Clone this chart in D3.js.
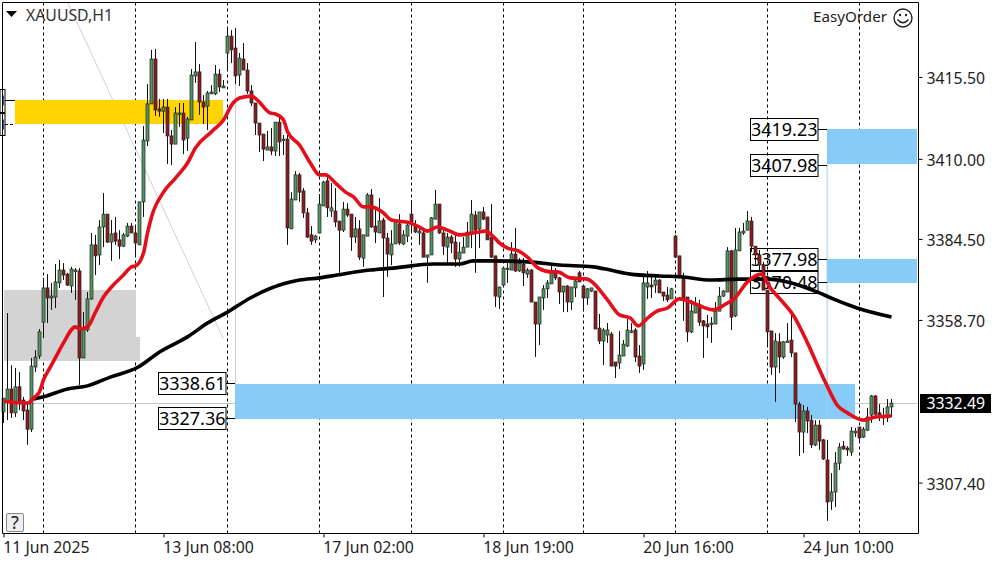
<!DOCTYPE html>
<html><head><meta charset="utf-8">
<script src="https://cdn.jsdelivr.net/npm/d3@7/dist/d3.min.js"></script>
<style>html,body{margin:0;padding:0;background:#fff;overflow:hidden}svg{display:block}text{font-family:"Noto Sans",sans-serif}</style>
</head><body><svg id="c" width="1000" height="562"></svg>
<script>
const opens=[3329.4,3332.6,3336.7,3329.1,3337.4,3333.2,3330.0,3323.9,3343.7,3347.2,3358.0,3368.9,3365.7,3366.0,3370.5,3374.6,3373.3,3369.5,3374.3,3374.3,3346.6,3355.5,3365.4,3382.6,3379.4,3388.3,3392.4,3383.5,3386.4,3384.2,3382.2,3385.4,3388.6,3386.4,3382.6,3396.3,3415.7,3427.5,3441.8,3425.9,3425.2,3426.5,3417.3,3414.7,3424.3,3424.6,3416.6,3422.4,3436.4,3437.7,3428.1,3426.8,3430.7,3430.7,3437.0,3432.6,3443.7,3449.1,3445.3,3436.7,3441.8,3438.3,3431.6,3427.8,3421.4,3417.9,3412.8,3413.8,3412.5,3421.7,3416.0,3416.3,3387.7,3396.9,3404.9,3399.8,3392.8,3385.8,3384.2,3386.4,3395.0,3403.0,3393.4,3393.4,3390.2,3387.3,3394.0,3392.4,3385.1,3387.7,3378.4,3385.4,3398.5,3388.6,3386.4,3390.5,3384.8,3379.4,3382.9,3389.3,3382.9,3385.4,3392.4,3388.6,3386.4,3386.4,3378.7,3379.4,3390.8,3395.6,3386.4,3381.9,3385.1,3383.5,3378.1,3380.0,3381.9,3386.4,3392.1,3387.7,3393.1,3391.5,3385.1,3379.1,3366.0,3369.8,3374.9,3374.6,3379.7,3374.3,3376.5,3373.3,3374.6,3364.4,3357.4,3365.7,3368.6,3370.2,3373.7,3372.1,3367.6,3369.5,3364.4,3368.9,3373.7,3369.5,3365.7,3367.9,3367.9,3356.1,3352.0,3353.9,3354.2,3345.3,3345.0,3347.2,3350.4,3354.9,3355.5,3347.2,3344.7,3369.2,3369.8,3369.8,3371.4,3367.6,3366.6,3365.4,3385.4,3379.1,3372.4,3366.0,3354.9,3360.9,3363.5,3358.4,3357.4,3357.4,3357.4,3361.5,3366.3,3367.6,3380.7,3360.0,3380.7,3386.4,3387.3,3390.2,3382.2,3379.4,3376.2,3368.2,3355.2,3343.7,3351.7,3346.9,3351.7,3352.3,3348.2,3331.9,3323.0,3329.7,3326.8,3318.9,3325.2,3320.5,3314.1,3301.0,3303.9,3313.1,3318.5,3317.9,3316.6,3322.7,3324.6,3321.4,3323.6,3328.4,3334.5,3329.1,3328.1,3327.5,3331.0];
const closes=[3333.8,3336.7,3329.1,3337.4,3332.2,3329.7,3323.9,3344.0,3346.9,3354.9,3368.9,3365.7,3366.3,3370.8,3374.6,3373.0,3369.8,3374.9,3374.6,3346.6,3356.1,3365.4,3382.6,3379.1,3388.3,3392.4,3383.5,3386.1,3383.8,3382.2,3385.8,3388.6,3386.4,3383.2,3396.3,3416.0,3427.5,3441.8,3425.6,3425.2,3426.5,3417.3,3414.7,3424.6,3424.6,3416.0,3422.7,3436.7,3437.7,3428.1,3426.5,3431.0,3431.3,3437.0,3432.9,3433.2,3449.1,3444.7,3436.4,3442.1,3438.3,3431.6,3427.8,3421.4,3417.6,3413.1,3413.8,3412.5,3421.7,3415.4,3416.3,3388.0,3397.2,3404.9,3399.4,3392.8,3385.1,3383.8,3385.4,3395.6,3402.6,3394.4,3394.4,3389.9,3387.3,3394.0,3392.1,3385.1,3387.7,3378.7,3385.8,3398.5,3388.3,3386.7,3390.2,3384.8,3379.7,3382.9,3389.9,3383.2,3385.8,3388.9,3389.9,3386.7,3387.0,3378.7,3379.4,3391.2,3395.6,3386.4,3382.2,3385.1,3383.2,3378.1,3380.3,3381.9,3386.7,3392.4,3387.3,3393.1,3390.8,3384.2,3378.7,3366.3,3369.2,3375.2,3375.2,3379.7,3374.3,3376.8,3373.7,3374.6,3364.4,3357.4,3366.0,3368.6,3370.5,3373.7,3372.1,3367.6,3369.5,3364.4,3369.2,3371.1,3370.8,3365.7,3368.6,3368.9,3355.8,3352.0,3355.5,3355.5,3344.0,3344.0,3347.5,3351.0,3355.5,3355.2,3346.9,3344.0,3370.5,3370.5,3369.2,3371.4,3367.3,3366.3,3365.1,3368.6,3378.7,3372.1,3365.7,3354.9,3361.5,3363.5,3358.0,3356.8,3356.5,3357.7,3361.5,3366.3,3367.9,3380.7,3359.6,3381.0,3386.7,3387.0,3390.2,3382.2,3379.4,3376.2,3368.2,3354.9,3343.7,3352.0,3346.9,3351.7,3352.0,3348.2,3331.9,3323.0,3329.7,3326.5,3318.9,3325.2,3320.1,3314.4,3300.7,3303.9,3313.1,3318.2,3317.6,3317.3,3323.3,3323.3,3321.1,3323.9,3327.8,3334.5,3328.7,3327.8,3327.5,3331.0,3332.2];
const highs=[3333.8,3360.9,3344.3,3343.4,3342.1,3334.2,3332.6,3346.6,3349.1,3355.8,3372.1,3373.3,3370.5,3376.5,3377.8,3376.8,3373.7,3375.6,3375.2,3375.2,3361.2,3367.6,3386.4,3385.8,3390.5,3399.1,3392.4,3390.5,3391.5,3387.3,3386.4,3389.6,3389.6,3388.9,3396.3,3420.5,3433.8,3444.7,3445.0,3429.1,3429.1,3429.1,3419.2,3426.5,3427.8,3427.8,3423.4,3438.6,3447.2,3440.2,3430.3,3431.6,3433.5,3439.9,3438.6,3435.1,3452.0,3451.0,3451.7,3443.7,3446.9,3440.5,3433.5,3427.8,3421.4,3417.9,3418.9,3419.8,3421.7,3423.0,3417.6,3417.6,3399.4,3406.1,3405.5,3400.7,3394.4,3388.6,3385.8,3398.8,3403.0,3404.9,3402.3,3400.7,3390.2,3396.3,3395.9,3392.4,3391.5,3390.5,3385.8,3399.1,3400.4,3393.7,3397.5,3391.2,3386.4,3387.3,3390.5,3392.4,3387.3,3389.9,3396.9,3390.5,3388.0,3388.0,3379.4,3391.5,3400.1,3395.6,3387.3,3386.4,3385.8,3385.8,3383.5,3385.1,3389.9,3396.9,3393.4,3393.1,3394.7,3391.5,3395.6,3379.1,3369.2,3375.6,3377.2,3383.5,3388.0,3378.4,3378.4,3375.2,3374.9,3364.4,3366.0,3369.8,3371.4,3376.5,3375.2,3372.4,3369.5,3369.8,3369.2,3371.7,3374.3,3369.5,3368.9,3368.9,3367.9,3360.6,3356.1,3357.7,3354.9,3345.3,3355.2,3352.3,3359.0,3357.7,3356.1,3350.7,3373.0,3374.3,3373.0,3372.4,3371.7,3367.6,3369.2,3368.9,3385.8,3379.1,3373.7,3366.0,3365.1,3366.0,3365.1,3358.7,3360.3,3359.6,3364.4,3369.2,3368.2,3381.9,3381.0,3388.0,3388.0,3389.6,3393.4,3391.5,3382.2,3381.0,3377.2,3368.2,3355.2,3354.5,3354.5,3352.0,3357.7,3360.3,3348.2,3332.6,3331.6,3331.0,3328.4,3326.8,3326.8,3320.8,3320.5,3309.9,3316.6,3319.5,3320.1,3318.5,3324.6,3324.3,3324.6,3324.6,3330.7,3334.8,3334.8,3331.9,3330.7,3333.5,3333.5];
const lows=[3325.9,3326.8,3327.5,3327.8,3330.0,3326.8,3318.9,3323.0,3342.1,3346.3,3352.9,3357.7,3361.9,3362.5,3368.9,3371.4,3369.5,3367.3,3365.1,3338.0,3346.6,3354.9,3365.1,3373.0,3376.2,3381.9,3383.2,3377.5,3382.6,3378.1,3381.9,3385.1,3386.4,3378.7,3382.6,3391.5,3414.1,3427.5,3423.7,3423.4,3418.2,3408.4,3408.0,3414.7,3420.2,3411.5,3412.5,3422.4,3434.2,3424.0,3421.1,3419.2,3430.7,3430.3,3431.3,3432.6,3438.0,3440.5,3433.8,3433.2,3438.3,3430.7,3426.8,3417.6,3412.2,3409.3,3412.8,3411.2,3410.9,3410.9,3411.2,3382.6,3387.7,3396.9,3396.3,3391.2,3384.8,3382.6,3383.2,3386.4,3395.0,3391.5,3391.5,3388.3,3373.7,3386.7,3391.5,3380.7,3383.2,3377.8,3375.6,3385.4,3388.0,3383.2,3386.4,3366.0,3372.4,3376.2,3382.9,3382.6,3382.6,3383.5,3386.4,3386.4,3382.6,3378.7,3370.5,3379.4,3390.8,3386.1,3379.4,3376.8,3380.0,3375.6,3375.6,3380.0,3381.9,3381.6,3373.7,3381.6,3390.5,3384.2,3378.4,3362.8,3362.2,3369.2,3370.5,3374.6,3374.0,3374.0,3369.5,3372.1,3364.4,3346.9,3350.7,3361.9,3365.7,3370.2,3371.4,3363.8,3361.2,3361.2,3361.9,3366.0,3370.8,3361.5,3363.5,3367.6,3355.8,3351.0,3344.3,3351.4,3344.0,3340.2,3343.1,3347.2,3350.1,3354.5,3345.3,3341.8,3342.8,3365.4,3365.7,3367.3,3367.3,3364.7,3364.4,3365.4,3378.4,3372.1,3358.4,3351.7,3354.5,3360.9,3356.8,3346.6,3352.9,3351.4,3357.4,3361.5,3366.0,3367.6,3355.5,3359.6,3380.7,3385.8,3387.3,3380.3,3376.2,3374.6,3368.2,3350.1,3341.2,3332.6,3341.8,3346.3,3351.4,3346.9,3326.2,3315.4,3316.3,3322.7,3317.9,3318.5,3317.3,3314.1,3294.7,3298.2,3299.1,3310.9,3317.3,3315.4,3315.4,3321.4,3319.5,3321.1,3323.3,3325.9,3327.8,3326.5,3325.2,3326.2,3327.8];

const fastBars=[0,6,7.5,9,10,11.7,14,15,18,19,21,23,25,27,30,32,33,35,36,37,40,43,46,48,52,55,57.4,59,62,63.4,66.7,68,70,71,74,76.7,79,80.5,83,85.5,87.5,90,91.7,94.7,97,101.7,104,106,108.4,111,114,117.4,120.4,122,124,126,128.7,131,133.7,137,138.4,141.7,146,147.4,151,154,156.7,158.7,161,163.4,166,169,172.4,177.4,181,182.4,186,189.4,191.7,195,197.4,201,204,206,208.4,211,215,218,222];
const fastMA=[3332.9,3332.2,3333.8,3335.8,3339.6,3343.7,3349.1,3351.4,3356.5,3355.8,3356.5,3361.2,3366.0,3369.2,3373.0,3375.6,3375.9,3380.0,3386.4,3391.5,3399.4,3403.9,3408.7,3413.5,3418.6,3422.4,3427.8,3429.4,3430.0,3428.8,3424.6,3424.3,3422.4,3418.6,3414.4,3408.7,3404.9,3404.9,3402.3,3399.4,3397.9,3394.7,3394.7,3393.1,3390.5,3389.6,3388.3,3387.0,3388.3,3387.3,3385.8,3386.4,3387.0,3385.8,3383.2,3381.6,3380.7,3378.7,3375.2,3374.0,3374.0,3372.1,3371.7,3370.5,3365.1,3360.3,3359.3,3356.8,3359.3,3361.5,3362.5,3365.4,3364.1,3361.9,3364.1,3365.1,3370.8,3373.3,3368.9,3364.1,3360.3,3351.4,3342.8,3337.4,3331.6,3329.1,3326.8,3327.8,3328.1];
const slowBars=[7.5,10,16,21,26.7,33.7,39,46,51,56,61.7,70,74,79,83.4,91.7,97.4,107.4,114,117.4,122.4,131,139,147.4,151.7,156.7,164,170,176.7,184,191,197,204,207.4,213.4,222];
const slowMA=[3333.5,3334.2,3336.7,3337.7,3340.5,3343.7,3348.5,3353.3,3357.7,3361.2,3365.7,3370.2,3371.4,3372.1,3373.0,3374.6,3375.2,3376.5,3376.5,3377.5,3377.5,3377.2,3376.2,3375.6,3374.6,3373.3,3372.7,3372.4,3371.4,3371.7,3371.7,3370.5,3367.3,3365.4,3362.5,3359.6];

const priceTickValues=[3436.1,3410.0,3384.5,3358.7,3306.9];
const priceTickLabels=["3415.50","3410.00","3384.50","3358.70","3307.40"];
const timeTickBars=[0,40,80,120,160,200];
const timeTickLabels=["11 Jun 2025","13 Jun 08:00","17 Jun 02:00","18 Jun 19:00","20 Jun 16:00","24 Jun 10:00"];
const separatorBars=[10,33,56,79,102,125,145,168,191,214];
const lastPrice=3332.49;
const blueZones=[[3338.3,3327.3,57.9,212.9],[3419.5,3408.4,205.9,228.4],[3378.0,3370.5,205.9,228.4]];
const levelLabels=[[3338.61,"l",57.9],[3327.36,"l",57.9],[3419.23,"r",205.9],[3407.98,"r",205.9],[3377.98,"r",205.9],[3370.48,"r",205.9]];
const yellowZone=[3428.75,3421.1,2.9,54.8];
const greyZones=[[3368.2,3345.6,0,33],[3353.3,3345.6,33,34]];

const svg=d3.select("#c");
const L=2.5,T=2.5,R=918.5,B=533.5;
const x=d3.scaleLinear().domain([0,222]).range([3.5,891.5]);
const y=d3.scaleLinear().domain([3460.6,3301.35]).range([0,500]);
const snap=v=>Math.round(v-0.5)+0.5;

// background zones
const zone=(z,fill)=>{const t=Math.round(y(z[0])),b=Math.round(y(z[1]));svg.append("rect").attr("x",Math.round(x(z[2]))).attr("width",Math.round(x(z[3]))-Math.round(x(z[2]))).attr("y",t).attr("height",b-t).attr("fill",fill);};
svg.append("line").attr("x1",L).attr("x2",R).attr("y1",403.5).attr("y2",403.5).attr("stroke","#c4c4c4");
svg.append("line").attr("x1",68).attr("y1",3).attr("x2",223).attr("y2",338).attr("stroke","#d0d0d0");
svg.append("line").attr("x1",235.5).attr("x2",235.5).attr("y1",60).attr("y2",384).attr("stroke","#d0d0d0");
svg.append("g").selectAll("line").data(separatorBars).join("line")
  .attr("x1",d=>x(d)).attr("x2",d=>x(d)).attr("y1",T).attr("y2",B)
  .attr("stroke","#000").attr("stroke-dasharray","3,3");
greyZones.forEach(z=>zone(z,"#d3d3d3"));
zone(yellowZone,"#ffd400");
blueZones.forEach(z=>zone(z,"#87cbf8"));
svg.append("line").attr("x1",x(205.9)).attr("x2",x(205.9)).attr("y1",y(3407.98)).attr("y2",y(3327.36)).attr("stroke","#9fd0ee");

// level tags
svg.append("g").selectAll("g").data(levelLabels).join("g").each(function(d){
  const g=d3.select(this),py=y(d[0]),side=d[1];
  const x1=side==="l"?158.5:750.5,w=67.5,cx=x1+w/2;
  g.append("line").attr("x1",x1+w).attr("x2",x(d[2])).attr("y1",snap(py)).attr("y2",snap(py)).attr("stroke","#000");
  g.append("rect").attr("x",x1).attr("y",snap(py)-11).attr("width",w).attr("height",22).attr("fill",side==="l"?"#fff":"none").attr("stroke","#000");
  g.append("text").attr("x",cx).attr("y",snap(py)+6.5).attr("text-anchor","middle").attr("font-size",18).attr("fill","#000").text(d[0].toFixed(2));
});

// clipped tags at left edge
[[89.5,23],[113.5,22]].forEach(r=>{
  svg.append("rect").attr("x",0).attr("y",r[0]).attr("width",5).attr("height",r[1]).attr("fill","#fff").attr("stroke","#000");
  svg.append("rect").attr("x",3).attr("y",r[0]+6).attr("width",1).attr("height",10).attr("fill","#33508a");
});
svg.append("line").attr("x1",5).attr("x2",15).attr("y1",100.5).attr("y2",100.5).attr("stroke","#000");
svg.append("line").attr("x1",5).attr("x2",15).attr("y1",124.5).attr("y2",124.5).attr("stroke","#000").attr("stroke-dasharray","3,2");

// candles
const idx=d3.range(opens.length);
svg.append("g").selectAll("line").data(idx).join("line")
  .attr("x1",i=>x(i)).attr("x2",i=>x(i)).attr("y1",i=>y(highs[i])).attr("y2",i=>y(lows[i])).attr("stroke","#111");
svg.append("g").selectAll("rect").data(idx).join("rect")
  .attr("x",i=>x(i)-1.5).attr("width",3)
  .attr("y",i=>y(Math.max(opens[i],closes[i])))
  .attr("height",i=>Math.max(1.5,Math.abs(y(opens[i])-y(closes[i]))))
  .attr("fill",i=>closes[i]>=opens[i]?"#54965f":"#8e1c1c")
  .attr("stroke","#222").attr("stroke-width",.7);

// moving averages
const line=d3.line().curve(d3.curveMonotoneX);
svg.append("path").attr("d",line(slowBars.map((b,i)=>[x(b),y(slowMA[i])]))).attr("fill","none").attr("stroke","#000").attr("stroke-width",3.6);
svg.append("path").attr("d",line(fastBars.map((b,i)=>[x(b),y(fastMA[i])]))).attr("fill","none").attr("stroke","#e3101c").attr("stroke-width",3.6);

// frame
svg.append("path").attr("d",`M${L},${T}H${R}V${B}H${L}Z`).attr("fill","none").attr("stroke","#000");

// axes
const yAxis=d3.axisRight(y).tickValues(priceTickValues).tickFormat((d,i)=>priceTickLabels[i]).tickSize(4).tickPadding(4);
const ya=svg.append("g").attr("transform",`translate(${R},0)`).call(yAxis);
const xAxis=d3.axisBottom(x).tickValues(timeTickBars).tickFormat((d,i)=>timeTickLabels[i]).tickSize(4).tickPadding(4);
const xa=svg.append("g").attr("transform",`translate(0,${B})`).call(xAxis);
[ya,xa].forEach(a=>{a.select(".domain").remove();a.selectAll("line").attr("stroke","#000");a.selectAll("text").attr("font-size",15.8).attr("font-family","Noto Sans").attr("fill","#222");});
ya.selectAll("text").attr("dy","0.42em");
xa.selectAll("text").attr("text-anchor","start").attr("x",-0.8);

// last price tag
svg.append("rect").attr("x",920).attr("y",394).attr("width",71).attr("height",19).attr("fill","#000");
svg.append("text").attr("x",926.5).attr("y",409).attr("font-size",15.8).attr("fill","#fff").text(lastPrice.toFixed(2));

// header
svg.append("path").attr("d","M6,11H17L11.5,17Z").attr("fill","#000");
svg.append("text").attr("x",26).attr("y",21).attr("font-size",15.8).attr("fill","#333").text("XAUUSD,H1");
svg.append("text").attr("x",813).attr("y",22).attr("font-size",15.2).attr("fill","#222").text("EasyOrder");
svg.append("circle").attr("cx",903).attr("cy",18).attr("r",9).attr("fill","none").attr("stroke","#222").attr("stroke-width",1.4);
svg.append("circle").attr("cx",900).attr("cy",15).attr("r",1.2).attr("fill","#222");
svg.append("circle").attr("cx",906).attr("cy",15).attr("r",1.2).attr("fill","#222");
svg.append("path").attr("d","M897.5,19.5Q903,26 908.5,19.5").attr("fill","none").attr("stroke","#222").attr("stroke-width",1.4);

// help button
svg.append("rect").attr("x",6.5).attr("y",513.5).attr("width",17).attr("height",18).attr("rx",1.5).attr("fill","#eee").attr("stroke","#888");
svg.append("text").attr("x",15).attr("y",529).attr("text-anchor","middle").attr("font-size",18).attr("fill","#222").text("?");
</script></body></html>
